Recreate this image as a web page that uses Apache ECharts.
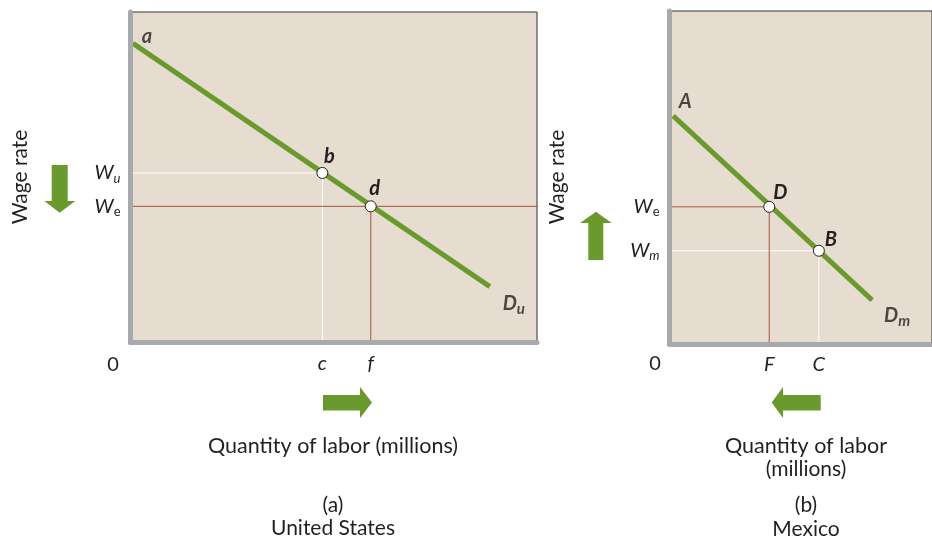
<!DOCTYPE html>
<html><head><meta charset="utf-8">
<script src="https://cdn.jsdelivr.net/npm/echarts@6/dist/echarts.min.js"></script>
<style>html,body{margin:0;padding:0;background:#fff}#c{width:932px;height:542px}</style>
</head><body><div id="c"></div>
<script>
// ---- Panel (a) United States (axis units 0..100) ----
const usDemandX = [0.6, 88.4];
const usDemandY = [90.5, 16.9];
const usPointNames = ['b', 'd'];
const usPointX = [47.2, 59.1];
const usPointY = [51.3, 41.2];
const usXTickNames = ['c', 'f'];
const usYTickNames = ['u', 'e'];
const usRightEdgeOfGap = 132.6;   // where panel (b)'s wage axis sits, in panel (a) units

// ---- Panel (b) Mexico ----
const mxDemandX = [1.4, 77.2];
const mxDemandY = [68.5, 13.2];
const mxPointNames = ['D', 'B'];
const mxPointX = [38.0, 56.9];
const mxPointY = [41.2, 28.0];
const mxXTickNames = ['F', 'C'];
const mxYTickNames = ['e', 'm'];

const FONT = 'Lato';
const GREEN = '#6a9a2e', BROWN = '#a2573f', AXIS = '#a8a9ac', BG = '#e6dcd0', INK = '#231f20';

const chart = echarts.init(document.getElementById('c'), null, {renderer: 'canvas'});

const richW = {
  w: {fontFamily: FONT, fontStyle: 'italic', fontSize: 20, color: INK},
  si: {fontFamily: FONT, fontStyle: 'italic', fontSize: 13, color: INK, verticalAlign: 'bottom', padding: [11, 0, 0, 0]},
  su: {fontFamily: FONT, fontSize: 13, color: INK, verticalAlign: 'bottom', padding: [11, 0, 0, 0]}
};
const richBold = {
  D: {fontFamily: FONT, fontStyle: 'italic', fontWeight: 'bold', fontSize: 20, color: INK},
  s: {fontFamily: FONT, fontStyle: 'italic', fontWeight: 'bold', fontSize: 15, color: INK, padding: [11, 0, 0, 0]}
};

function xAxisFor(gi, ticks, names) {
  return {
    gridIndex: gi, type: 'value', min: 0, max: 100, z: 5,
    axisLine: {show: true, onZero: false, lineStyle: {color: AXIS, width: 5}},
    axisTick: {show: false}, splitLine: {show: false},
    axisLabel: {
      customValues: ticks, margin: 11, fontFamily: FONT, fontStyle: 'italic', fontSize: 20, color: INK,
      formatter: v => names[ticks.indexOf(v)] || ''
    }
  };
}
function yAxisFor(gi, ticks, subs, italicSub) {
  return {
    gridIndex: gi, type: 'value', min: 0, max: 100, z: 5,
    axisLine: {show: true, onZero: false, lineStyle: {color: AXIS, width: 5}},
    axisTick: {show: false}, splitLine: {show: false},
    axisLabel: {
      customValues: ticks, margin: 10,
      formatter: v => {
        const i = ticks.indexOf(v);
        if (i < 0) return '';
        return '{w|W}{' + (italicSub[i] ? 'si' : 'su') + '|' + subs[i] + '}';
      },
      rich: richW
    }
  };
}

function thin(gi, data, color, clip) {
  return {type: 'line', xAxisIndex: gi, yAxisIndex: gi, data, symbol: 'none', silent: true,
          clip: clip !== false, lineStyle: {color, width: 1}, z: 2, animation: false};
}
function demand(gi, xs, ys) {
  return {type: 'line', xAxisIndex: gi, yAxisIndex: gi, data: xs.map((x, i) => [x, ys[i]]),
          symbol: 'none', lineStyle: {color: GREEN, width: 5}, z: 3, animation: false};
}
function points(gi, names, xs, ys, offsets) {
  return {type: 'scatter', xAxisIndex: gi, yAxisIndex: gi, z: 4, animation: false,
    symbol: 'circle', symbolSize: 11,
    itemStyle: {color: '#fff', borderColor: INK, borderWidth: 1, opacity: 1},
    data: names.map((n, i) => ({name: n, value: [xs[i], ys[i]],
      label: {show: true, position: 'inside', offset: offsets[n], formatter: '{D|' + n + '}', rich: richBold}}))
  };
}
function endLabels(gi, xs, ys, texts, offsets) {
  return {type: 'scatter', xAxisIndex: gi, yAxisIndex: gi, z: 4, animation: false, symbolSize: 0,
    itemStyle: {color: 'rgba(0,0,0,0)'},
    data: texts.map((t, i) => ({value: [xs[i], ys[i]],
      label: {show: true, position: 'inside', offset: offsets[i], formatter: t, rich: richBold}}))
  };
}

const usWu = usPointY[0], usWe = usPointY[1], usC = usPointX[0], usF = usPointX[1];
const mxWe = mxPointY[0], mxWm = mxPointY[1], mxF = mxPointX[0], mxC = mxPointX[1];

function txt(x, y, s, size, rot) {
  return {type: 'text', x, y, rotation: rot || 0,
    style: {text: s, fill: INK, fontSize: size || 19, fontFamily: FONT, align: 'center', verticalAlign: 'middle'}};
}
function poly(pts) {
  return {type: 'polygon', shape: {points: pts}, style: {fill: GREEN}};
}

chart.setOption({
  animation: false,
  grid: [
    {left: 130.5, top: 12, width: 406.5, height: 330.5, show: true, backgroundColor: BG, borderColor: '#333', borderWidth: 1},
    {left: 669.5, top: 11, width: 280, height: 333, show: true, backgroundColor: BG, borderColor: '#333', borderWidth: 1}
  ],
  xAxis: [xAxisFor(0, [usC, usF], usXTickNames), xAxisFor(1, [mxF, mxC], mxXTickNames)],
  yAxis: [yAxisFor(0, [usWu, usWe], usYTickNames, [true, false]), yAxisFor(1, [mxWe, mxWm], mxYTickNames, [false, true])],
  series: [
    thin(0, [[0, usWu], [usC, usWu], [usC, 0]], '#ffffff'),
    thin(0, [[0, usWe], [usRightEdgeOfGap, usWe]], BROWN, false),
    thin(0, [[usF, usWe], [usF, 0]], BROWN),
    demand(0, usDemandX, usDemandY),
    points(0, usPointNames, usPointX, usPointY, {b: [7, -16], d: [4, -18]}),
    endLabels(0, usDemandX, usDemandY, ['{D|a}', '{D|D}{s|u}'], [[14, -7], [24, 17]]),

    thin(1, [[0, mxWm], [mxC, mxWm], [mxC, 0]], '#ffffff'),
    thin(1, [[0, mxWe], [mxF, mxWe], [mxF, 0]], BROWN),
    demand(1, mxDemandX, mxDemandY),
    points(1, mxPointNames, mxPointX, mxPointY, {D: [11, -14], B: [12, -11]}),
    endLabels(1, mxDemandX, mxDemandY, ['{D|A}', '{D|D}{s|m}'], [[12, -14], [25, 16]])
  ],
  graphic: [
    txt(113, 365, '0', 20),
    txt(655, 364, '0', 20),
    txt(20, 177, 'Wage rate', 21, Math.PI / 2),
    txt(557, 177, 'Wage rate', 21, Math.PI / 2),
    txt(333, 446, 'Quantity of labor (millions)', 21.5),
    txt(333, 505, '(a)', 21),
    txt(333, 528, 'United States', 21),
    txt(806, 446, 'Quantity of labor', 21.5),
    txt(806, 469, '(millions)', 21),
    txt(806, 505, '(b)', 21),
    txt(806, 529, 'Mexico', 21),
    poly([[51.7, 165], [67.7, 165], [67.7, 201], [75.3, 201], [59.7, 212.7], [44.3, 201], [51.7, 201]]),
    poly([[588.3, 260], [603.3, 260], [603.3, 223], [611.7, 223], [596, 211.7], [580, 223], [588.3, 223]]),
    poly([[323, 395], [360, 395], [360, 387], [372, 402.5], [360, 418], [360, 410.5], [323, 410.5]]),
    poly([[820.7, 395], [783, 395], [783, 387], [771.7, 402.5], [783, 418], [783, 410.5], [820.7, 410.5]])
  ]
});
</script></body></html>
